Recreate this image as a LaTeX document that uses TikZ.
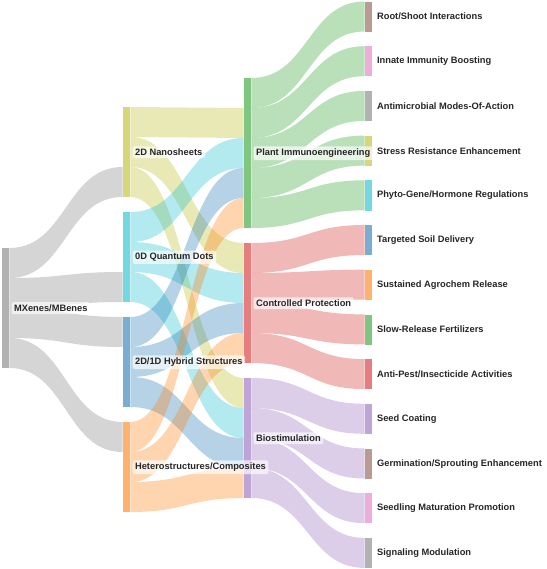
\documentclass[tikz,border=0pt]{standalone}
\usepackage{fontspec}
\setmainfont{Liberation Sans}
\usepackage{xcolor}
\usepackage{tikz}
\usetikzlibrary{positioning,calc}

\definecolor{tabblue}{HTML}{1F77B4}
\definecolor{taborange}{HTML}{FF7F0E}
\definecolor{tabgreen}{HTML}{2CA02C}
\definecolor{tabred}{HTML}{D62728}
\definecolor{tabpurple}{HTML}{9467BD}
\definecolor{tabbrown}{HTML}{8C564B}
\definecolor{tabpink}{HTML}{E377C2}
\definecolor{tabgray}{HTML}{7F7F7F}
\definecolor{tabolive}{HTML}{BCBD22}
\definecolor{tabcyan}{HTML}{17BECF}

% source, offset, target, offset, colour
\newcommand{\band}[5]{%
  \fill[#5, fill opacity=.33]
    ($(#1.north east)+(0,#2)$) .. controls +(56.5,0) and +(-56.5,0) .. ($(#3.north west)+(0,#4)$)
    -- ++(0,30) .. controls +(-56.5,0) and +(56.5,0) .. ($(#1.north east)+(0,#2+30)$) -- cycle;}

\begin{document}
\begin{tikzpicture}[
  x=1pt, y=-1pt,
  bar/.style={rectangle, inner sep=0pt, minimum width=7.5pt, anchor=north west},
  lbl/.style={fill=white, fill opacity=.65, text opacity=1, rounded corners=2pt,
    inner sep=2.5pt, text=black!85, font=\bfseries\fontsize{9.3}{11}\selectfont}
]
\useasboundingbox (0,0) rectangle (546,569);

\node[bar, fill=tabgray!60, minimum height=120pt] (mx) at (1.5,248) {};

\node[bar, fill=tabolive!60, minimum height=90pt] (nano) at (122.5,107) {};
\node[bar, fill=tabcyan!60, minimum height=90pt] (qd) at (122.5,212) {};
\node[bar, fill=tabblue!60, minimum height=90pt] (hyb) at (122.5,317) {};
\node[bar, fill=taborange!60, minimum height=90pt] (het) at (122.5,422) {};

\node[bar, fill=tabgreen!60, minimum height=150pt] (plant) at (243.5,78) {};
\node[bar, fill=tabred!60, minimum height=120pt] (ctrl) at (243.5,243) {};
\node[bar, fill=tabpurple!60, minimum height=120pt] (bio) at (243.5,378) {};

\node[bar, fill=tabbrown!60, minimum height=30pt] (root) at (364.5,1.5) {};
\node[bar, fill=tabpink!60, minimum height=30pt] (innate) at (364.5,46.2) {};
\node[bar, fill=tabgray!60, minimum height=30pt] (antimic) at (364.5,90.9) {};
\node[bar, fill=tabolive!60, minimum height=30pt] (stress) at (364.5,135.6) {};
\node[bar, fill=tabcyan!60, minimum height=30pt] (phyto) at (364.5,180.3) {};
\node[bar, fill=tabblue!60, minimum height=30pt] (soil) at (364.5,225) {};
\node[bar, fill=taborange!60, minimum height=30pt] (agro) at (364.5,269.7) {};
\node[bar, fill=tabgreen!60, minimum height=30pt] (fert) at (364.5,314.4) {};
\node[bar, fill=tabred!60, minimum height=30pt] (pest) at (364.5,359.1) {};
\node[bar, fill=tabpurple!60, minimum height=30pt] (seed) at (364.5,403.8) {};
\node[bar, fill=tabbrown!60, minimum height=30pt] (germ) at (364.5,448.5) {};
\node[bar, fill=tabpink!60, minimum height=30pt] (seedl) at (364.5,493.2) {};
\node[bar, fill=tabgray!60, minimum height=30pt] (signal) at (364.5,537.9) {};

\band{mx}{0}{nano}{60}{tabgray}
\band{mx}{30}{qd}{60}{tabgray}
\band{mx}{60}{hyb}{0}{tabgray}
\band{mx}{90}{het}{0}{tabgray}

\band{nano}{0}{plant}{30}{tabolive}
\band{nano}{30}{ctrl}{0}{tabolive}
\band{nano}{60}{bio}{0}{tabolive}
\band{qd}{0}{plant}{60}{tabcyan}
\band{qd}{30}{ctrl}{30}{tabcyan}
\band{qd}{60}{bio}{30}{tabcyan}
\band{hyb}{0}{plant}{90}{tabblue}
\band{hyb}{30}{ctrl}{60}{tabblue}
\band{hyb}{60}{bio}{60}{tabblue}
\band{het}{0}{plant}{120}{taborange}
\band{het}{30}{ctrl}{90}{taborange}
\band{het}{60}{bio}{90}{taborange}

\band{plant}{0}{root}{0}{tabgreen}
\band{plant}{30}{innate}{0}{tabgreen}
\band{plant}{60}{antimic}{0}{tabgreen}
\band{plant}{90}{stress}{0}{tabgreen}
\band{plant}{120}{phyto}{0}{tabgreen}
\band{ctrl}{0}{soil}{0}{tabred}
\band{ctrl}{30}{agro}{0}{tabred}
\band{ctrl}{60}{fert}{0}{tabred}
\band{ctrl}{90}{pest}{0}{tabred}
\band{bio}{0}{seed}{0}{tabpurple}
\band{bio}{30}{germ}{0}{tabpurple}
\band{bio}{60}{seedl}{0}{tabpurple}
\band{bio}{90}{signal}{0}{tabpurple}

\node[lbl, right=2pt of mx] (mx-l) {MXenes/MBenes};
\node[lbl, right=2pt of nano] (nano-l) {2D Nanosheets};
\node[lbl, right=2pt of qd] (qd-l) {0D Quantum Dots};
\node[lbl, right=2pt of hyb] (hyb-l) {2D/1D Hybrid Structures};
\node[lbl, right=2pt of het] (het-l) {Heterostructures/Composites};
\node[lbl, right=2pt of plant] (plant-l) {Plant Immunoengineering};
\node[lbl, right=2pt of ctrl] (ctrl-l) {Controlled Protection};
\node[lbl, right=2pt of bio] (bio-l) {Biostimulation};
\node[lbl, right=2pt of root] (root-l) {Root/Shoot Interactions};
\node[lbl, right=2pt of innate] (innate-l) {Innate Immunity Boosting};
\node[lbl, right=2pt of antimic] (antimic-l) {Antimicrobial Modes-Of-Action};
\node[lbl, right=2pt of stress] (stress-l) {Stress Resistance Enhancement};
\node[lbl, right=2pt of phyto] (phyto-l) {Phyto-Gene/Hormone Regulations};
\node[lbl, right=2pt of soil] (soil-l) {Targeted Soil Delivery};
\node[lbl, right=2pt of agro] (agro-l) {Sustained Agrochem Release};
\node[lbl, right=2pt of fert] (fert-l) {Slow-Release Fertilizers};
\node[lbl, right=2pt of pest] (pest-l) {Anti-Pest/Insecticide Activities};
\node[lbl, right=2pt of seed] (seed-l) {Seed Coating};
\node[lbl, right=2pt of germ] (germ-l) {Germination/Sprouting Enhancement};
\node[lbl, right=2pt of seedl] (seedl-l) {Seedling Maturation Promotion};
\node[lbl, right=2pt of signal] (signal-l) {Signaling Modulation};
\end{tikzpicture}
\end{document}
